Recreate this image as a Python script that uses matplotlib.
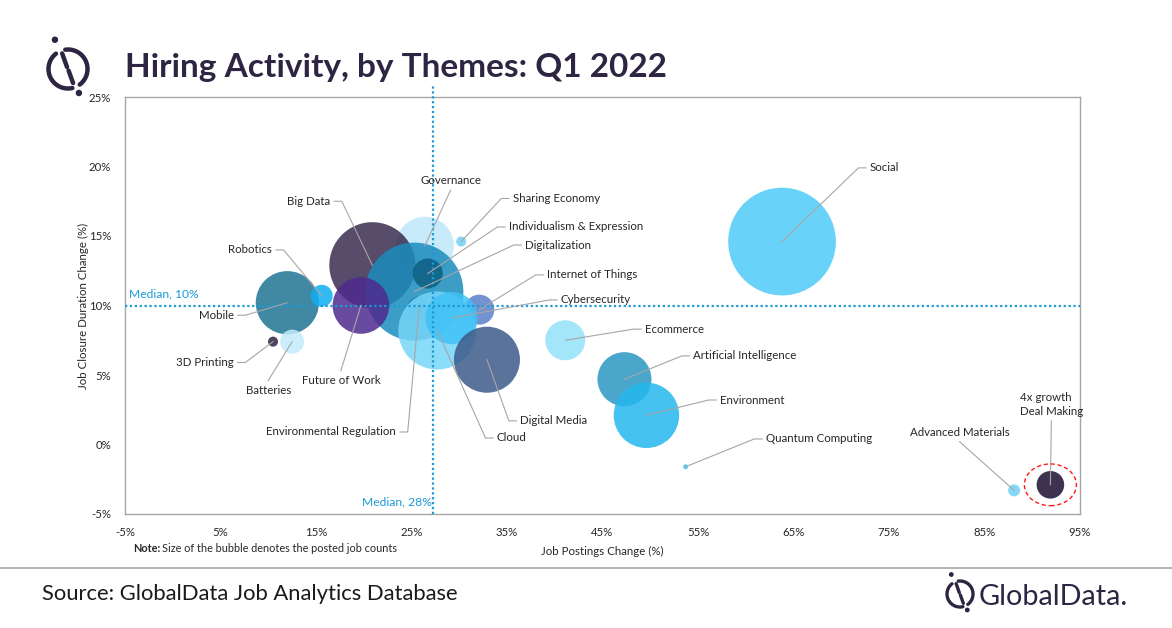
import matplotlib
matplotlib.use("Agg")
import matplotlib.pyplot as plt
import numpy as np
from matplotlib.patches import Circle, Ellipse
from matplotlib.ticker import FuncFormatter

# data (x: job postings change %, y: job closure duration change %)
themes = ["Governance", "Big Data", "Environmental Regulation", "Digitalization",
          "Individualism & Expression", "Future of Work", "Mobile", "Robotics",
          "Internet of Things", "Cloud", "Cybersecurity", "Digital Media",
          "Sharing Economy", "Ecommerce", "Artificial Intelligence", "Environment",
          "Quantum Computing", "Social", "Advanced Materials", "Deal Making",
          "3D Printing", "Batteries"]
postings_change = [26.4, 20.9, 25.8, 25.3, 26.7, 19.7, 12.0, 15.6, 32.1, 27.7, 29.2,
                   32.9, 30.2, 41.1, 47.3, 49.6, 53.7, 63.8, 88.1, 91.9, 10.5, 12.5]
closure_change = [14.3, 12.9, 9.8, 11.0, 12.3, 10.0, 10.2, 10.7, 9.7, 8.2, 9.1,
                  6.1, 14.6, 7.5, 4.7, 2.1, -1.6, 14.6, -3.3, -2.9, 7.4, 7.4]
job_counts = [8400, 18500, 1440, 24000, 2250, 8000, 10000, 1200, 2250, 15200, 6800,
              10900, 250, 4000, 7300, 10700, 60, 29000, 360, 1900, 250, 1440]

median_postings = 27.2
median_closure = 10.0

colors = ["#bde8fa", "#3a2d50", "#1a8cbc", "#1a8cbc", "#0e5f82", "#4e2a8e",
          "#1f7592", "#10aef2", "#5a7fc8", "#76d6f8", "#3fc2f5", "#3d5a8a",
          "#6fd0f6", "#93e1f8", "#2b97c3", "#25b8ee", "#3fc2f5", "#4fcbf8",
          "#6fd0f6", "#1b0f33", "#2f2145", "#c2ebfa"]

# where each label sits: (x, y, side)
label_layout = {
    "Social": (73.0, 19.9, "left"),
    "Big Data": (16.5, 17.5, "right"),
    "Governance": (29.1, 18.3, "above"),
    "Sharing Economy": (35.6, 17.7, "left"),
    "Individualism & Expression": (35.2, 15.65, "left"),
    "Digitalization": (36.9, 14.35, "left"),
    "Internet of Things": (39.2, 12.2, "left"),
    "Cybersecurity": (40.65, 10.4, "left"),
    "Ecommerce": (49.45, 8.3, "left"),
    "Artificial Intelligence": (54.5, 6.37, "left"),
    "Environment": (57.3, 3.2, "left"),
    "Quantum Computing": (62.1, 0.4, "left"),
    "Advanced Materials": (82.4, 0.2, "above"),
    "Deal Making": (92.0, 1.7, "above"),
    "Digital Media": (36.4, 1.7, "left"),
    "Cloud": (33.95, 0.47, "left"),
    "Environmental Regulation": (23.4, 0.9, "right"),
    "Future of Work": (17.6, 5.3, "below"),
    "Robotics": (10.4, 14.0, "right"),
    "Mobile": (6.4, 9.3, "right"),
    "3D Printing": (6.4, 5.9, "right"),
    "Batteries": (10.0, 4.6, "below"),
}
label_text = {"Deal Making": "4x growth\nDeal Making"}

plt.rcParams["font.family"] = ["Lato", "DejaVu Sans"]
DARK = "#262626"
LEAD = "#a6a6a6"
MED = "#1a9ad6"
LFS = 8.3

fig = plt.figure(figsize=(11.72, 6.28), dpi=100)
ax = fig.add_axes([125 / 1172, 1 - 514 / 628, 955 / 1172, 417 / 628])

ax.scatter(postings_change, closure_change, s=[c * 0.2074 for c in job_counts],
           c=colors, alpha=0.85, linewidths=0, zorder=3)

ax.axvline(median_postings, color=MED, lw=1.6, ls=(0, (1, 1.2)), zorder=4,
           ymin=0.0, ymax=1.03, clip_on=False)
ax.axhline(median_closure, color=MED, lw=1.6, ls=(0, (1, 1.2)), zorder=4)
ax.text(-4.6, median_closure + 0.45, "Median, 10%", color=MED, fontsize=8.7,
        va="bottom", ha="left")
ax.text(median_postings - 0.1, -4.1, "Median, 28%", color=MED, fontsize=8.7,
        va="center", ha="right")

for name, x, y in zip(themes, postings_change, closure_change):
    tx, ty, side = label_layout[name]
    txt = label_text.get(name, name)
    if side == "left":
        ax.plot([x, tx - 1.2, tx - 0.4], [y, ty, ty], color=LEAD, lw=0.8, zorder=5)
        ax.text(tx, ty, txt, ha="left", va="center", fontsize=LFS, color=DARK, zorder=6)
    elif side == "right":
        ax.plot([x, tx + 1.2, tx + 0.4], [y, ty, ty], color=LEAD, lw=0.8, zorder=5)
        ax.text(tx, ty, txt, ha="right", va="center", fontsize=LFS, color=DARK, zorder=6)
    elif side == "above":
        ax.plot([x, tx], [y, ty], color=LEAD, lw=0.8, zorder=5)
        ax.text(tx, ty + 0.3, txt, ha="center", va="bottom", fontsize=LFS,
                color=DARK, zorder=6, multialignment="left", linespacing=1.3)
    else:
        ax.plot([x, tx], [y, ty], color=LEAD, lw=0.8, zorder=5)
        ax.text(tx, ty - 0.3, txt, ha="center", va="top", fontsize=LFS,
                color=DARK, zorder=6)

# highlight ring around the deal making bubble
i = themes.index("Deal Making")
ax.add_patch(Ellipse((postings_change[i], closure_change[i]), 5.45, 3.0, fill=False,
                     ec="#ff1a1a", lw=1.0, ls=(0, (3, 2)), zorder=6))

ax.set_xlim(-5, 95)
ax.set_ylim(-5, 25)
ax.set_xticks(range(-5, 96, 10))
ax.set_yticks(range(-5, 26, 5))
fmt = FuncFormatter(lambda v, p: f"{v:.0f}%")
ax.xaxis.set_major_formatter(fmt)
ax.yaxis.set_major_formatter(fmt)
ax.tick_params(length=0, labelsize=8.2, labelcolor=DARK)
ax.tick_params(axis="x", pad=9)
ax.tick_params(axis="y", pad=10)
for sp in ax.spines.values():
    sp.set_color("#a6a6a6")
    sp.set_linewidth(1.0)
ax.set_xlabel("Job Postings Change (%)", fontsize=8.3, color=DARK, labelpad=6)
ax.set_ylabel("Job Closure Duration Change (%)", fontsize=8.3, color=DARK,
              labelpad=0)

# page decorations in pixel coordinates
deco = fig.add_axes([0, 0, 1, 1], zorder=-1)
deco.set_xlim(0, 1172)
deco.set_ylim(628, 0)
deco.axis("off")

PURPLE = "#2e2543"
deco.text(125, 67, "Hiring Activity, by Themes: Q1 2022", fontsize=24,
          fontweight="bold", color=PURPLE, va="center", ha="left")
deco.plot([0, 1172], [568, 568], color="#a6a6a6", lw=1.2)
deco.text(42, 594, "Source: GlobalData Job Analytics Database", fontsize=15.8,
          color="#1a1a1a", va="center", ha="left")
deco.text(133, 549, "Note:", fontsize=7.8, fontweight="bold", color=DARK,
          va="center", ha="left")
deco.text(162, 549, "Size of the bubble denotes the posted job counts", fontsize=7.8,
          color=DARK, va="center", ha="left")


def ring(cx, cy, r, a0, a1, lw):
    t = np.radians(np.linspace(a0, a1, 80))
    deco.plot(cx + r * np.cos(t), cy - r * np.sin(t), color=PURPLE, lw=lw,
              solid_capstyle="round")


def logo(cx, cy, r, lw):
    ring(cx, cy, r, 128, 283, lw)
    ring(cx, cy, r, 307, 458, lw)
    deco.add_patch(Circle((cx - r * 0.67, cy - r * 1.5), r * 0.13, color=PURPLE))
    deco.add_patch(Circle((cx + r * 0.56, cy + r * 1.23), r * 0.13, color=PURPLE))
    deco.plot([cx - r * 0.3, cx - r * 0.05], [cy - r * 0.8, cy - r * 0.1],
              color=PURPLE, lw=lw, solid_capstyle="round")
    deco.plot([cx + r * 0.03, cx + r * 0.26], [cy + r * 0.08, cy + r * 0.72],
              color=PURPLE, lw=lw, solid_capstyle="round")


logo(68, 69, 19.5, 3.2)
logo(960, 594, 13, 2.4)
deco.text(979, 597, "GlobalData.", fontsize=20.8, color=PURPLE, va="center",
          ha="left")

fig.savefig("out.png", dpi=100)
